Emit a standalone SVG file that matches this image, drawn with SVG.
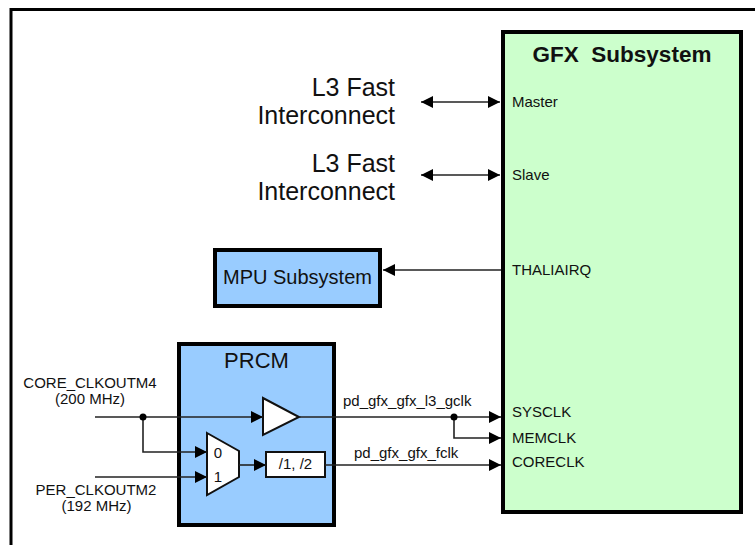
<svg xmlns="http://www.w3.org/2000/svg" width="755" height="545" viewBox="0 0 755 545">
<style>
text{font-family:"Liberation Sans",Arial,sans-serif;fill:#111}
.s{font-size:15px}
.big{font-size:25px}
.box{stroke:#000;stroke-width:4}
.el{fill:#fff;stroke:#111;stroke-width:2}
.w{fill:none;stroke:#222;stroke-width:1.6}
</style>
<defs>
<marker id="ah" viewBox="0 0 12 12" refX="12" refY="6" markerWidth="12" markerHeight="12" markerUnits="userSpaceOnUse" orient="auto-start-reverse">
<path d="M0,0 L12,6 L0,12 z" fill="#000"/>
</marker>
</defs>
<rect width="755" height="545" fill="#fff"/>
<path d="M11,560 V9.5 H770" fill="none" stroke="#000" stroke-width="3"/>

<g id="gfx">
<rect class="box" x="503" y="32" width="238" height="480" fill="#CCFFCC"/>
<text x="622" y="62" text-anchor="middle" font-size="22.5" font-weight="bold" xml:space="preserve">GFX  Subsystem</text>
<text class="s" x="512" y="107">Master</text>
<text class="s" x="512" y="180">Slave</text>
<text class="s" x="512" y="275">THALIAIRQ</text>
<text class="s" x="512" y="417">SYSCLK</text>
<text class="s" x="512" y="443">MEMCLK</text>
<text class="s" x="512" y="467">CORECLK</text>
</g>

<g id="l3a">
<text class="big" x="395" y="96" text-anchor="end">L3 Fast</text>
<text class="big" x="395" y="124" text-anchor="end">Interconnect</text>
</g>
<g id="l3b">
<text class="big" x="395" y="172" text-anchor="end">L3 Fast</text>
<text class="big" x="395" y="200" text-anchor="end">Interconnect</text>
</g>

<g id="mpu">
<rect class="box" x="215" y="250" width="165" height="56" fill="#99CCFF"/>
<text x="297.5" y="284" text-anchor="middle" font-size="20">MPU Subsystem</text>
</g>

<g id="prcm">
<rect class="box" x="179" y="344" width="155" height="181" fill="#99CCFF"/>
<text x="256.5" y="368" text-anchor="middle" font-size="22">PRCM</text>
</g>

<g id="buffer">
<polygon class="el" points="263,398 263,435 299,417"/>
</g>

<g id="mux">
<polygon class="el" points="207,433 239,451 239,477 207,495"/>
<text class="s" x="218" y="458" text-anchor="middle">0</text>
<text class="s" x="218" y="482" text-anchor="middle">1</text>
</g>

<g id="div">
<rect class="el" x="266" y="452" width="59" height="25"/>
<text class="s" x="295.5" y="469" text-anchor="middle">/1, /2</text>
</g>

<g id="inputs">
<text class="s" x="90" y="388" text-anchor="middle">CORE_CLKOUTM4</text>
<text class="s" x="90" y="404" text-anchor="middle">(200 MHz)</text>
<text class="s" x="96" y="495" text-anchor="middle">PER_CLKOUTM2</text>
<text class="s" x="96.5" y="511" text-anchor="middle">(192 MHz)</text>
</g>

<g id="connectors">
<path class="w" d="M421,102 H500" marker-start="url(#ah)" marker-end="url(#ah)"/>
<path class="w" d="M421,175 H500" marker-start="url(#ah)" marker-end="url(#ah)"/>
<path class="w" d="M501,270 H383" marker-end="url(#ah)"/>
<path class="w" d="M95,417 H263" marker-end="url(#ah)"/>
<path class="w" d="M143,417 V452 H207" marker-end="url(#ah)"/>
<path class="w" d="M95,477 H207" marker-end="url(#ah)"/>
<path class="w" d="M239,465 H266" marker-end="url(#ah)"/>
<path class="w" d="M299,417 H501" marker-end="url(#ah)"/>
<path class="w" d="M454,417 V438 H501" marker-end="url(#ah)"/>
<path class="w" d="M325,465 H501" marker-end="url(#ah)"/>
<circle cx="143" cy="417" r="3.5" fill="#000"/>
<circle cx="454" cy="417" r="3.5" fill="#000"/>
<text class="s" x="343" y="406">pd_gfx_gfx_l3_gclk</text>
<text class="s" x="354" y="458">pd_gfx_gfx_fclk</text>
</g>
</svg>
